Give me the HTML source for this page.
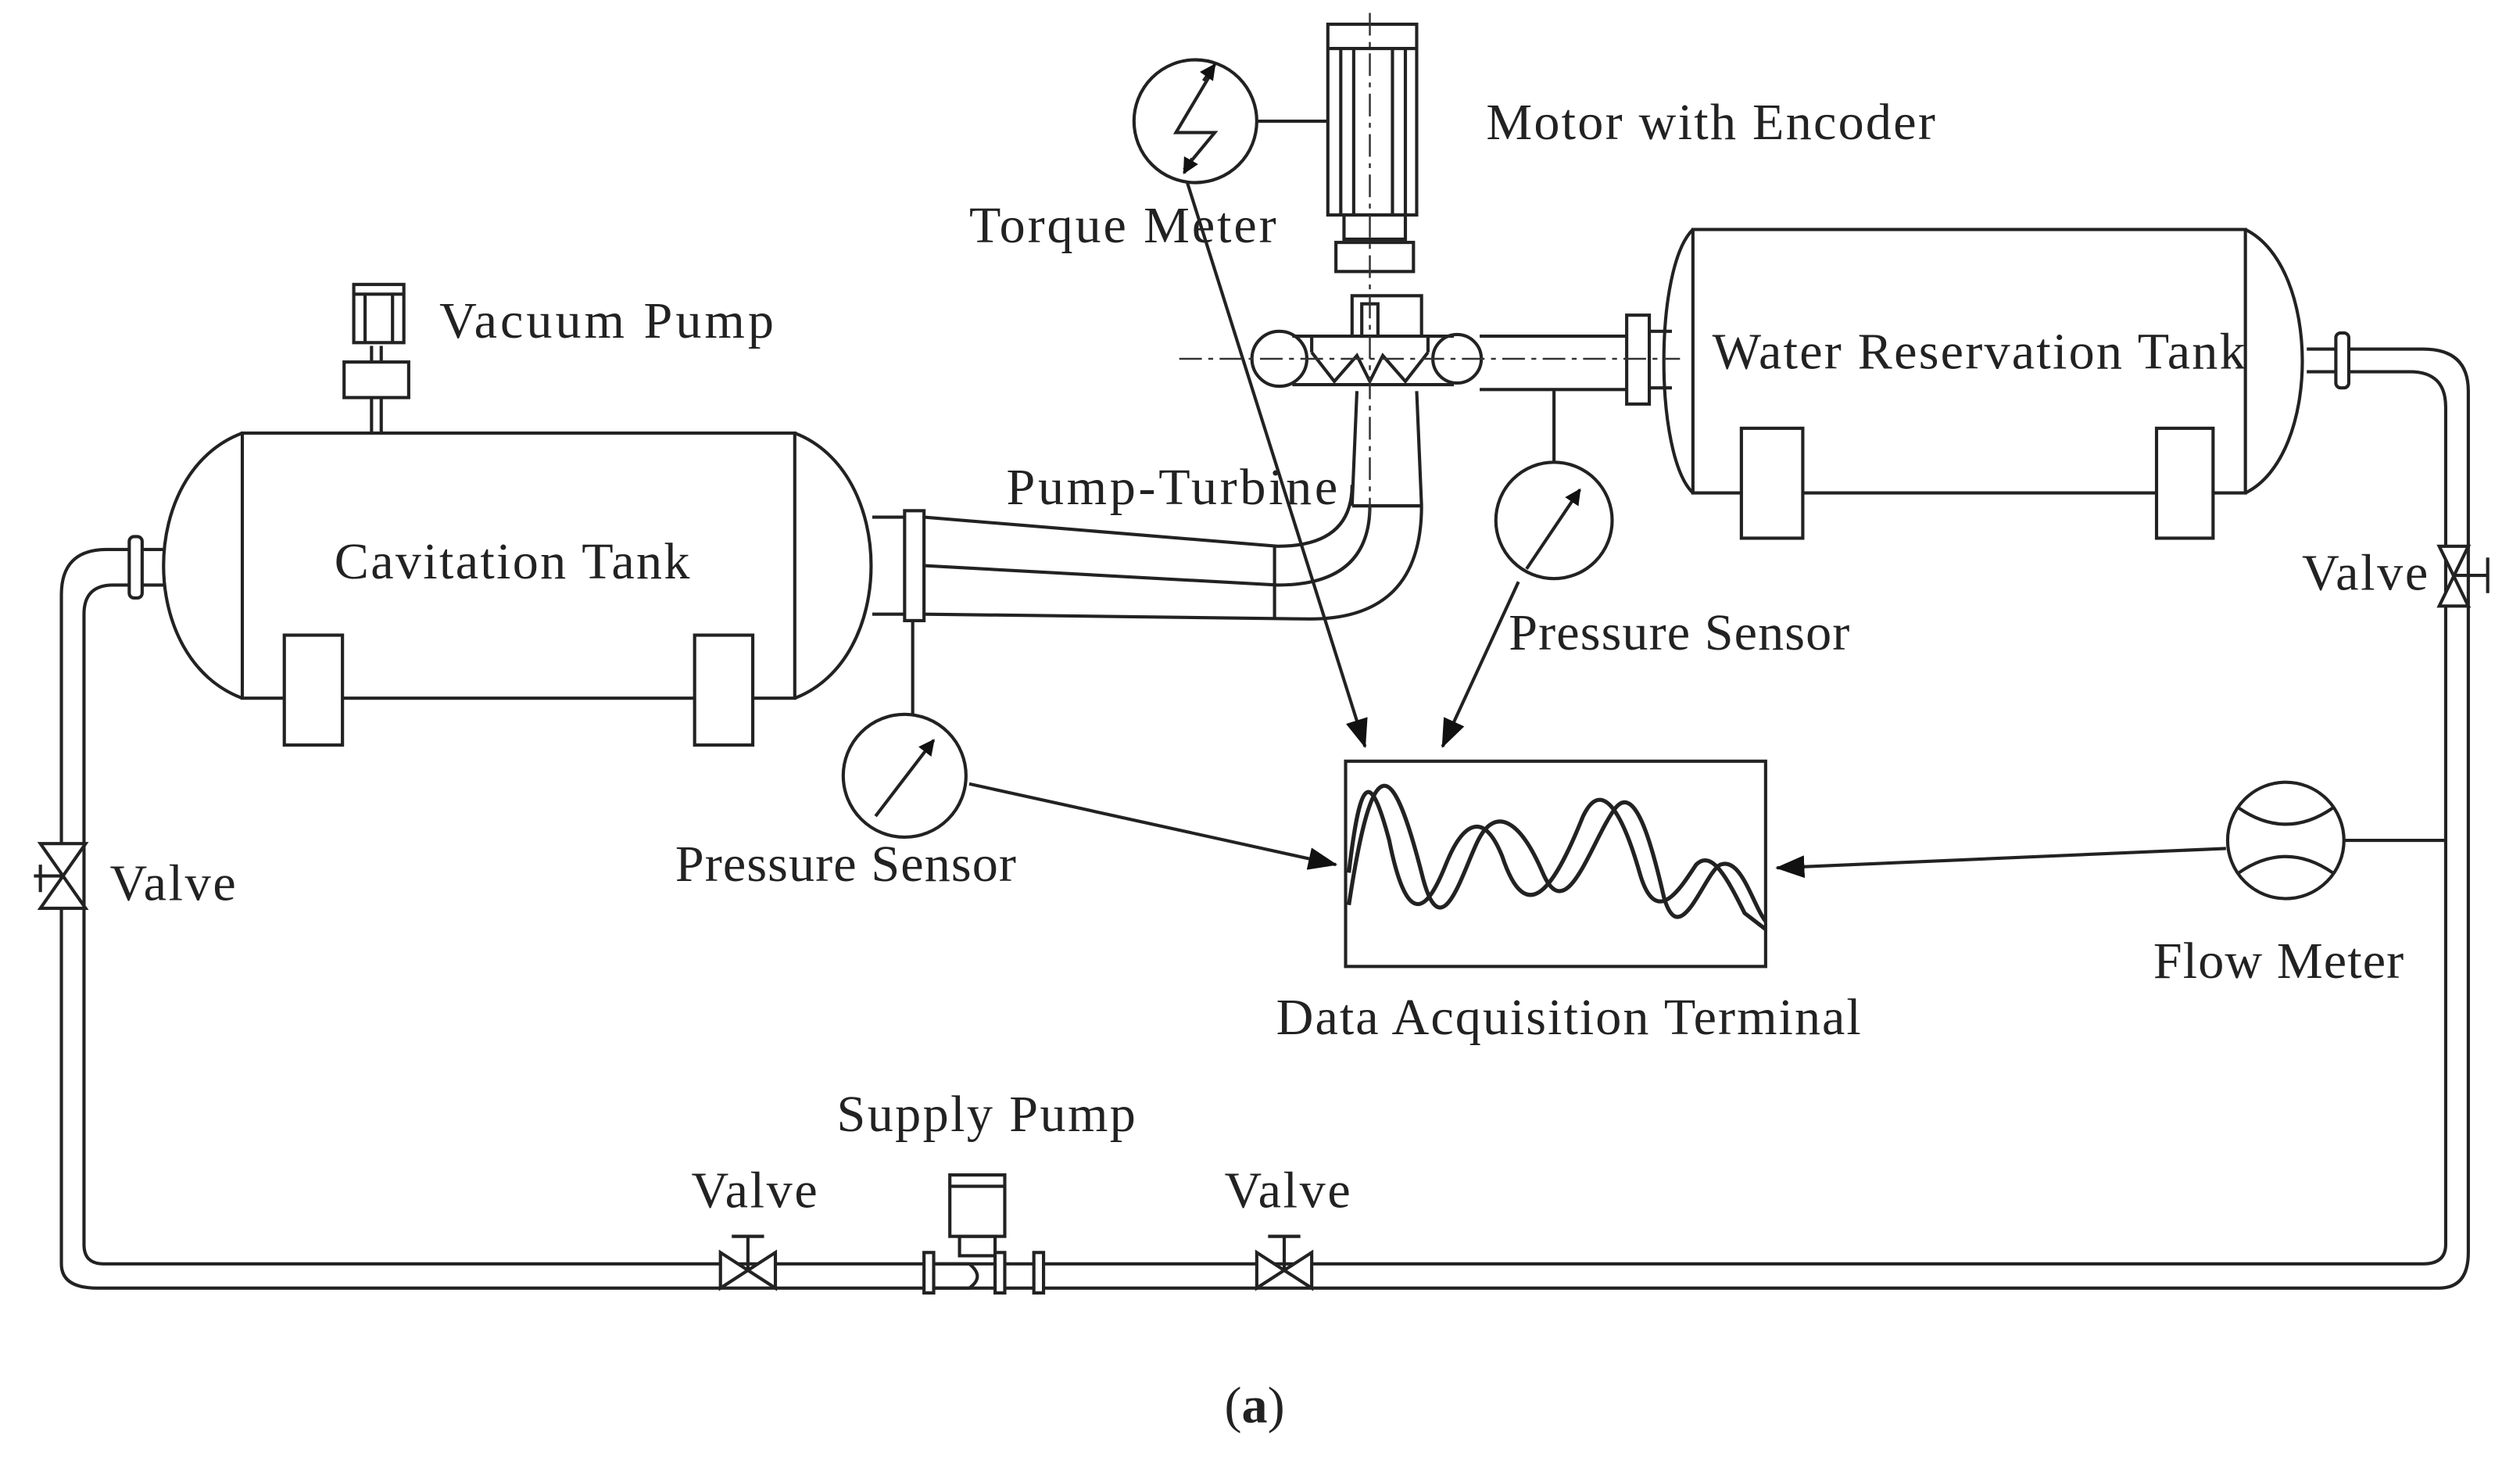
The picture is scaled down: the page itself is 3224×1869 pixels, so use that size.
<!DOCTYPE html>
<html><head><meta charset="utf-8"><style>
html,body{margin:0;padding:0;background:#fff;}
svg{display:block;}
text{font-family:"Liberation Serif",serif;font-size:32px;fill:#222;}
</style></head><body>
<svg width="3224" height="1869" viewBox="0 0 1560 904" preserveAspectRatio="none" xmlns="http://www.w3.org/2000/svg">
<defs><marker id="ah" markerWidth="10" markerHeight="10" refX="9" refY="5" orient="auto" markerUnits="userSpaceOnUse" viewBox="0 0 10 10"><path d="M0,0 L10,5 L0,10 z" fill="#111"/></marker>
<marker id="ah2" markerWidth="18" markerHeight="14" refX="17" refY="7" orient="auto" markerUnits="userSpaceOnUse" viewBox="0 0 18 14"><path d="M0,0 L18,7 L0,14 z" fill="#111"/></marker></defs>
<g fill="none" stroke="#222" stroke-width="2">
<!-- main loop pipe -->
<path d="M84,340 H66 Q38,340 38,368 V782 Q38,797 60,797 H1510 Q1528,797 1528,775 V242 Q1528,216 1500,216 H1450"/>
<path d="M84,362 H70 Q52,362 52,380 V770 Q52,782 64,782 H1500 Q1514,782 1514,770 V252 Q1514,230 1492,230 H1450"/>
<rect x="80" y="332" width="8" height="38" rx="3" fill="#fff"/>
<line x1="88" y1="340" x2="102" y2="340"/><line x1="88" y1="362" x2="102" y2="362"/>
<rect x="1446" y="206" width="8" height="34" rx="3" fill="#fff"/>
<line x1="1428" y1="216" x2="1446" y2="216"/><line x1="1428" y1="230" x2="1446" y2="230"/>
<!-- cavitation tank -->
<rect x="150" y="268" width="342" height="164" fill="#fff"/>
<path d="M150,268 C85,292 85,408 150,432"/><path d="M492,268 C555,292 555,408 492,432"/>
<rect x="176" y="393" width="36" height="68" fill="#fff"/><rect x="430" y="393" width="36" height="68" fill="#fff"/>
<!-- vacuum pump -->
<line x1="230" y1="246" x2="230" y2="268"/><line x1="236" y1="246" x2="236" y2="268"/>
<rect x="213" y="224" width="40" height="22"/>
<line x1="230" y1="214" x2="230" y2="224"/><line x1="236" y1="214" x2="236" y2="224"/>
<rect x="219" y="176" width="31" height="36"/><line x1="219" y1="182" x2="250" y2="182"/>
<line x1="226" y1="182" x2="226" y2="212"/><line x1="243" y1="182" x2="243" y2="212"/>
<!-- water reservation tank -->
<rect x="1048" y="142" width="342" height="163" fill="#fff"/>
<path d="M1048,142 C1024,165 1024,282 1048,305"/><path d="M1390,142 C1437,165 1437,282 1390,305"/>
<rect x="1078" y="265" width="38" height="68" fill="#fff"/><rect x="1335" y="265" width="35" height="68" fill="#fff"/>
<!-- volute pipe -->
<line x1="916" y1="208" x2="1007" y2="208"/><line x1="916" y1="241" x2="1007" y2="241"/>
<rect x="1007" y="195" width="14" height="55"/>
<line x1="1021" y1="205" x2="1035" y2="205"/><line x1="1021" y1="240" x2="1035" y2="240"/>
<circle cx="792" cy="222" r="17"/><circle cx="902" cy="222" r="15"/>
<path d="M800,208 H900 M800,238 H900"/>
<rect x="843" y="188" width="10" height="20"/>
<path d="M812,218 L826,236 L840,220 L848,236 L856,220 L870,236 L884,218"/>
<path d="M812,208 V218 M884,208 V218"/>
<!-- shaft & coupling -->
<path d="M837,208 V183 H880 V208"/>
<rect x="827" y="150" width="48" height="18"/><rect x="832" y="133" width="38" height="15"/>
<rect x="822" y="15" width="55" height="118"/><line x1="822" y1="30" x2="877" y2="30"/>
<line x1="830" y1="30" x2="830" y2="133"/><line x1="838" y1="30" x2="838" y2="133"/>
<line x1="862" y1="30" x2="862" y2="133"/><line x1="870" y1="30" x2="870" y2="133"/>
<!-- draft tube elbow -->
<path d="M840,242 L837,313 M877,242 L880,313 M837,313 H880"/>
<path d="M540,320 H572 L791,338 Q837,338 837,300"/>
<path d="M540,380 H572 L811,383 Q880,383 880,313"/>
<path d="M572,350 L791,362 Q848,362 848,313"/>
<line x1="789" y1="338" x2="789" y2="383"/>
<rect x="560" y="316" width="12" height="68" fill="#fff"/>
<!-- pressure sensors -->
<line x1="565" y1="384" x2="565" y2="442"/>
<circle cx="560" cy="480" r="38"/>
<line x1="542" y1="505" x2="578" y2="458" marker-end="url(#ah)"/>
<line x1="962" y1="241" x2="962" y2="286"/>
<circle cx="962" cy="322" r="36"/>
<line x1="945" y1="352" x2="978" y2="303" marker-end="url(#ah)"/>
<!-- torque meter -->
<circle cx="740" cy="75" r="38"/><line x1="778" y1="75" x2="822" y2="75"/>
<path d="M750,45 L728,82 L752,82 L733,105" /><path d="M745,50 L752,40" marker-end="url(#ah)"/><path d="M738,98 L733,107" marker-end="url(#ah)"/>
<!-- flow meter -->
<circle cx="1415" cy="520" r="36"/><line x1="1451" y1="520" x2="1514" y2="520"/>
<path d="M1386,500 Q1415,520 1444,500"/><path d="M1386,540 Q1415,520 1444,540"/>
<!-- DAQ -->
<rect x="833" y="471" width="260" height="127"/>
<path stroke-width="2.5" d="M835,560 C850,460 862,470 880,540 C892,590 905,540 915,520 C925,500 940,505 955,540 C970,575 985,520 1000,500 C1012,485 1022,520 1030,555 C1040,590 1055,540 1065,535 C1078,530 1085,560 1093,570"/>
<path stroke-width="2.5" d="M835,540 C842,480 848,475 860,520 C872,580 885,560 895,535 C905,510 918,500 930,530 C945,575 962,550 980,505 C992,480 1005,505 1015,540 C1025,575 1040,550 1050,535 C1060,525 1070,545 1080,565 L1093,575"/>
<!-- arrows -->
<line x1="735" y1="113" x2="845" y2="462" marker-end="url(#ah2)"/>
<line x1="940" y1="360" x2="893" y2="462" marker-end="url(#ah2)"/>
<line x1="600" y1="485" x2="827" y2="535" marker-end="url(#ah2)"/>
<line x1="1378" y1="525" x2="1100" y2="537" marker-end="url(#ah2)"/>
<!-- valves -->
<path d="M28,522 L56,522 L28,562 L56,562 Z" fill="#fff" transform="translate(-3,0)"/><line x1="25" y1="535" x2="25" y2="552"/><line x1="21" y1="542" x2="40" y2="542"/>
<path d="M446,775 L446,797 L480,775 L480,797 Z" fill="#fff"/><line x1="463" y1="786" x2="463" y2="765"/><line x1="453" y1="765" x2="473" y2="765"/>
<path d="M778,775 L778,797 L812,775 L812,797 Z" fill="#fff"/><line x1="795" y1="786" x2="795" y2="765"/><line x1="785" y1="765" x2="805" y2="765"/>
<path d="M1510,338 L1528,338 L1510,375 L1528,375 Z" fill="#fff"/><line x1="1519" y1="356" x2="1540" y2="356"/><line x1="1540" y1="345" x2="1540" y2="367"/>
<!-- supply pump -->
<rect x="588" y="727" width="34" height="38" fill="#fff"/><line x1="588" y1="734" x2="622" y2="734"/>
<rect x="594" y="765" width="22" height="12"/>
<rect x="572" y="775" width="6" height="25" fill="#fff"/><rect x="616" y="775" width="6" height="25" fill="#fff"/><rect x="640" y="775" width="6" height="25" fill="#fff"/>
<path d="M578,782 H600 Q610,790 600,797 H578"/>
</g>
<g stroke="#333" stroke-width="1.2" stroke-dasharray="14,4,3,4" fill="none">
<line x1="730" y1="222" x2="1040" y2="222"/><line x1="848" y1="8" x2="848" y2="320"/>
</g>
<text x="920" y="86" textLength="278">Motor with Encoder</text>
<text x="600" y="150" textLength="190">Torque Meter</text>
<text x="272" y="209" textLength="207">Vacuum Pump</text>
<text x="1060" y="228" textLength="330">Water Reservation Tank</text>
<text x="207" y="358" textLength="220">Cavitation Tank</text>
<text x="623" y="312" textLength="205">Pump-Turbine</text>
<text x="934" y="402" textLength="211">Pressure Sensor</text>
<text x="1425" y="365" textLength="78">Valve</text>
<text x="418" y="545" textLength="211">Pressure Sensor</text>
<text x="68" y="557" textLength="78">Valve</text>
<text x="1333" y="605" textLength="155">Flow Meter</text>
<text x="790" y="640" textLength="362">Data Acquisition Terminal</text>
<text x="518" y="700" textLength="185">Supply Pump</text>
<text x="428" y="747" textLength="78">Valve</text>
<text x="758" y="747" textLength="78">Valve</text>
<text x="758" y="880">(<tspan font-weight="bold">a</tspan>)</text>
</svg>
</body></html>
